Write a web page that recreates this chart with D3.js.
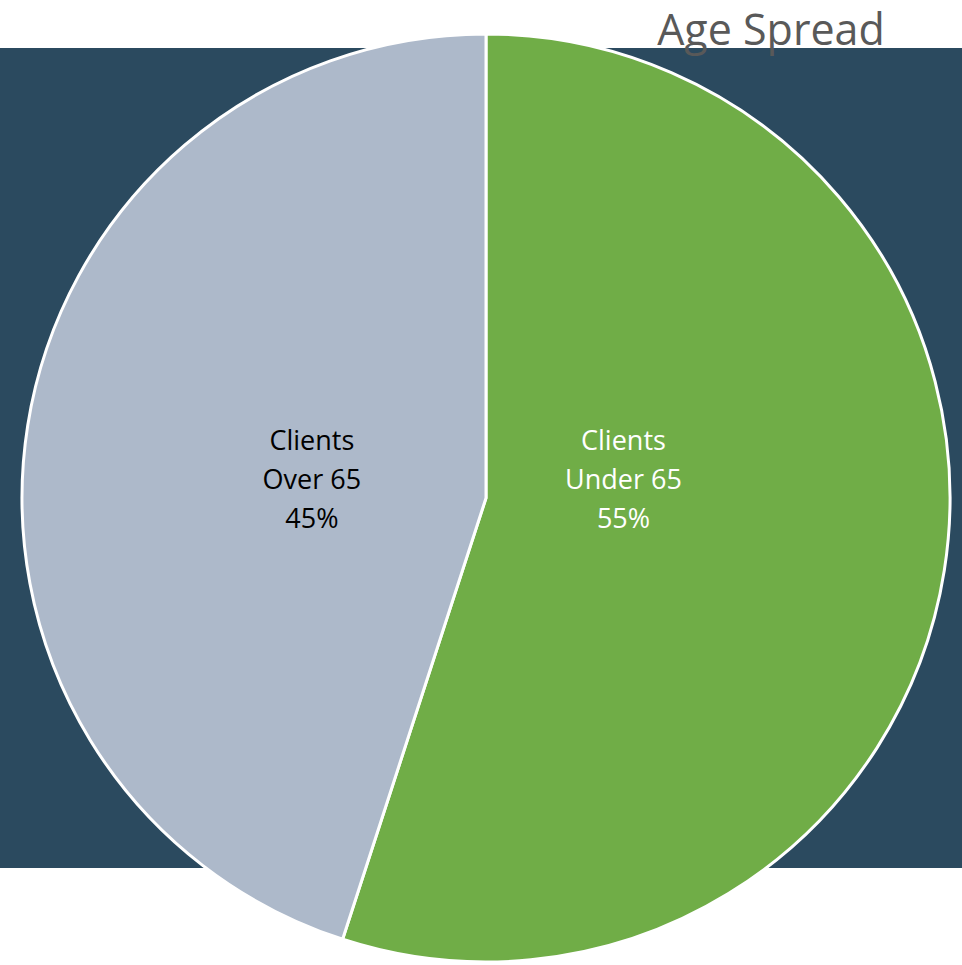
<!DOCTYPE html>
<html>
<head>
<meta charset="utf-8">
<script src="https://cdn.jsdelivr.net/npm/d3@7/dist/d3.min.js"></script>
<style>
  html, body { margin: 0; padding: 0; background: #ffffff; }
  svg { display: block; }
</style>
</head>
<body>
<svg id="chart" width="962" height="965"></svg>
<script>
// Client age breakdown
const categories = ["Clients Under 65", "Clients Over 65"];
const labelLines = [["Clients", "Under 65"], ["Clients", "Over 65"]];
const shares = [55, 45];
const sliceColors = ["#70AD47", "#ADB9CA"];
const labelColors = ["#ffffff", "#000000"];
const title = "Age Spread";

const W = 962, H = 965;
const cx = 486, cy = 498, R = 464;

const svg = d3.select("#chart");

// Dark backdrop panel
svg.append("rect")
  .attr("x", 0).attr("y", 48)
  .attr("width", W).attr("height", 820)
  .attr("fill", "#2B4A5F");

const data = categories.map((c, i) => ({ name: c, value: shares[i], lines: labelLines[i], i }));

const pie = d3.pie().value(d => d.value).sort(null);
const arc = d3.arc().innerRadius(0).outerRadius(R);

const g = svg.append("g").attr("transform", `translate(${cx},${cy})`);

const arcs = pie(data);

g.selectAll("path.slice")
  .data(arcs)
  .join("path")
  .attr("class", "slice")
  .attr("d", arc)
  .attr("fill", d => sliceColors[d.data.i])
  .attr("stroke", "#ffffff")
  .attr("stroke-width", 3)
  .attr("stroke-linejoin", "round");

// Data labels, placed along each slice's mid-angle
const labelRadius = [0.30, 0.38];
const lineH = 39;
const fmt = d3.format(".0%");

arcs.forEach(a => {
  const mid = (a.startAngle + a.endAngle) / 2;
  const r = R * labelRadius[a.data.i];
  const x = Math.sin(mid) * r;
  const y = -9;
  const lines = a.data.lines.concat([fmt(a.data.value / d3.sum(shares))]);
  const t = g.append("text")
    .attr("text-anchor", "middle")
    .attr("font-family", "'Open Sans', sans-serif")
    .attr("font-size", 27)
    .attr("fill", labelColors[a.data.i]);
  lines.forEach((ln, k) => {
    t.append("tspan")
      .attr("x", x)
      .attr("y", y + (k - 1) * lineH)
      .text(ln);
  });
});

// Title
svg.append("text")
  .attr("x", 771).attr("y", 45)
  .attr("text-anchor", "middle")
  .attr("font-family", "'Open Sans', sans-serif")
  .attr("font-size", 43)
  .attr("fill", "#595959")
  .text(title);
</script>
</body>
</html>
